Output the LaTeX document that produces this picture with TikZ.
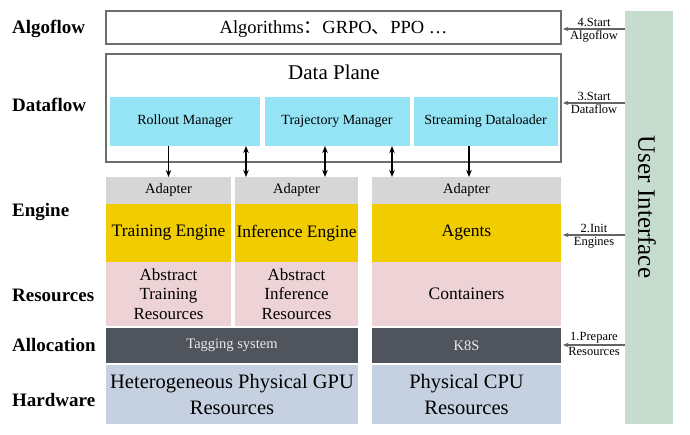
\documentclass[tikz,border=0pt]{standalone}
\usepackage{fontspec}
\setmainfont{Liberation Serif}
\newfontfamily\cjk{Noto Sans CJK SC}
\usetikzlibrary{arrows.meta,calc}
\definecolor{cyanbox}{RGB}{148,228,245}
\definecolor{adgray}{RGB}{214,214,214}
\definecolor{engyellow}{RGB}{241,205,0}
\definecolor{respink}{RGB}{238,211,214}
\definecolor{alldark}{RGB}{80,84,92}
\definecolor{hwblue}{RGB}{197,209,225}
\definecolor{uigreen}{RGB}{198,220,206}
\definecolor{edgegray}{RGB}{110,110,110}
\definecolor{arrgray}{RGB}{100,100,100}
\tikzset{
  cell/.style={rectangle, inner sep=0pt, outer sep=0pt, draw=none, align=center},
  frame/.style={rectangle, inner sep=0pt, outer sep=0pt, draw=edgegray, line width=1.4pt, fill=white},
  rowlabel/.style={anchor=west, inner sep=0pt, font=\fontsize{19}{20}\selectfont\bfseries},
  arr/.style={line width=1.3pt, -{Stealth[length=7pt,width=5.5pt]}},
  dblarr/.style={line width=1.3pt, {Stealth[length=7pt,width=5.5pt]}-{Stealth[length=7pt,width=5.5pt]}},
  uarr/.style={draw=arrgray, line width=1.3pt, -{Stealth[length=5.5pt,width=4.5pt]}},
  ulabel/.style={font=\fontsize{12.5}{13}\selectfont, inner sep=1pt},
}
\begin{document}
\begin{tikzpicture}[x=1pt,y=-1pt]
\useasboundingbox (0,0) rectangle (690,435);

% row labels
\node[rowlabel] (lalgo) at (12,29) {Algoflow};
\node[rowlabel] (ldata) at (12,105) {Dataflow};
\node[rowlabel] (leng) at (12,212) {Engine};
\node[rowlabel] (lres) at (12,295) {Resources};
\node[rowlabel] (lalloc) at (12,345) {Allocation};
\node[rowlabel] (lhw) at (12,400) {Hardware};

% algoflow box
\node[frame, minimum width=455pt, minimum height=33pt] (algo) at (333.5,27.5) {};
\node[cell, font=\fontsize{18.5}{20}\selectfont] (algotext) at (333.5,29) {Algorithms{\cjk ：}GRPO{\cjk 、}PPO …};

% data plane
\node[frame, minimum width=455pt, minimum height=108pt] (dp) at (333.5,108) {};
\node[cell, font=\fontsize{21}{22}\selectfont] (dptext) at (334,72) {Data Plane};
\node[cell, fill=cyanbox, minimum width=150pt, minimum height=49pt, font=\fontsize{14}{15}\selectfont] (rollout) at (185,121.5) {Rollout Manager};
\node[cell, fill=cyanbox, minimum width=145pt, minimum height=49pt, font=\fontsize{14}{15}\selectfont] (traj) at (337,121.5) {Trajectory Manager};
\node[cell, fill=cyanbox, minimum width=144pt, minimum height=49pt, font=\fontsize{14}{15}\selectfont] (stream) at (485.5,121.5) {Streaming Dataloader};

% column 1
\node[cell, fill=adgray, minimum width=125pt, minimum height=27pt, font=\fontsize{14.5}{15}\selectfont] (ad1) at (168.5,190.5) {Adapter};
\node[cell, fill=engyellow, minimum width=125pt, minimum height=58pt, font=\fontsize{17.5}{19}\selectfont] (train) at (168.5,233) {Training Engine};
\node[cell, fill=respink, minimum width=125pt, minimum height=64pt, font=\fontsize{17}{19.5}\selectfont] (atr) at (168.5,294) {Abstract\\Training\\Resources};
% column 2
\node[cell, fill=adgray, minimum width=123pt, minimum height=27pt, font=\fontsize{14.5}{15}\selectfont] (ad2) at (296.5,190.5) {Adapter};
\node[cell, fill=engyellow, minimum width=123pt, minimum height=58pt, font=\fontsize{17.5}{19}\selectfont] (infer) at (296.5,233) {Inference Engine};
\node[cell, fill=respink, minimum width=123pt, minimum height=64pt, font=\fontsize{17}{19.5}\selectfont] (air) at (296.5,294) {Abstract\\Inference\\Resources};
% column 3
\node[cell, fill=adgray, minimum width=189pt, minimum height=27pt, font=\fontsize{14.5}{15}\selectfont] (ad3) at (466.5,190.5) {Adapter};
\node[cell, fill=engyellow, minimum width=189pt, minimum height=58pt, font=\fontsize{17.5}{19}\selectfont] (agents) at (466.5,233) {Agents};
\node[cell, fill=respink, minimum width=189pt, minimum height=64pt, font=\fontsize{17.5}{19}\selectfont] (cont) at (466.5,294) {Containers};

% allocation
\node[cell, fill=alldark, minimum width=252pt, minimum height=35pt, text=white!92!black, font=\fontsize{14.5}{15}\selectfont] (tag) at (232,345.5) {Tagging system};
\node[cell, fill=alldark, minimum width=189pt, minimum height=35pt, text=white!92!black, font=\fontsize{14.5}{15}\selectfont] (k8s) at (466.5,345.5) {K8S};

% hardware
\node[cell, fill=hwblue, minimum width=252pt, minimum height=59pt, font=\fontsize{20.5}{25.5}\selectfont] (gpu) at (232,394.5) {Heterogeneous Physical GPU\\Resources};
\node[cell, fill=hwblue, minimum width=189pt, minimum height=59pt, font=\fontsize{20.5}{25.5}\selectfont] (cpu) at (466.5,394.5) {Physical CPU\\Resources};

% user interface bar
\node[cell, fill=uigreen, minimum width=48pt, minimum height=413pt] (ui) at (649,217.5) {};
\node[cell, rotate=-90, font=\fontsize{25}{27}\selectfont] (uitext) at (647,207) {User Interface};

% vertical arrows
\draw[arr] (rollout.south -| ad1.north) -- (ad1.north);
\draw[dblarr] ([xshift=11pt]ad2.north west |- rollout.south) -- ([xshift=11pt]ad2.north west);
\draw[dblarr] ([xshift=90pt]ad2.north west |- traj.south) -- ([xshift=90pt]ad2.north west);
\draw[dblarr] ([xshift=20pt]ad3.north west |- traj.south) -- ([xshift=20pt]ad3.north west);
\draw[arr] ([xshift=2.5pt]ad3.north |- stream.south) -- ([xshift=2.5pt]ad3.north);

% user interface arrows
\coordinate (t4) at ([xshift=2pt]algo.east |- 0,29);
\coordinate (t3) at ([xshift=2pt]dp.east |- 0,103);
\coordinate (t2) at ([xshift=2pt]agents.east |- 0,235);
\coordinate (t1) at ([xshift=2pt]k8s.east |- 0,345);
\draw[uarr] (ui.west |- t4) -- (t4)
  node[ulabel, midway, above=0.5pt] {4.Start} node[ulabel, midway, below=0.5pt] {Algoflow};
\draw[uarr] (ui.west |- t3) -- (t3)
  node[ulabel, midway, above=0.5pt] {3.Start} node[ulabel, midway, below=0.5pt] {Dataflow};
\draw[uarr] (ui.west |- t2) -- (t2)
  node[ulabel, midway, above=0.5pt] {2.Init} node[ulabel, midway, below=0.5pt] {Engines};
\draw[uarr] (ui.west |- t1) -- (t1)
  node[ulabel, midway, above=0.5pt] {1.Prepare} node[ulabel, midway, below=0.5pt] {Resources};
\end{tikzpicture}
\end{document}
